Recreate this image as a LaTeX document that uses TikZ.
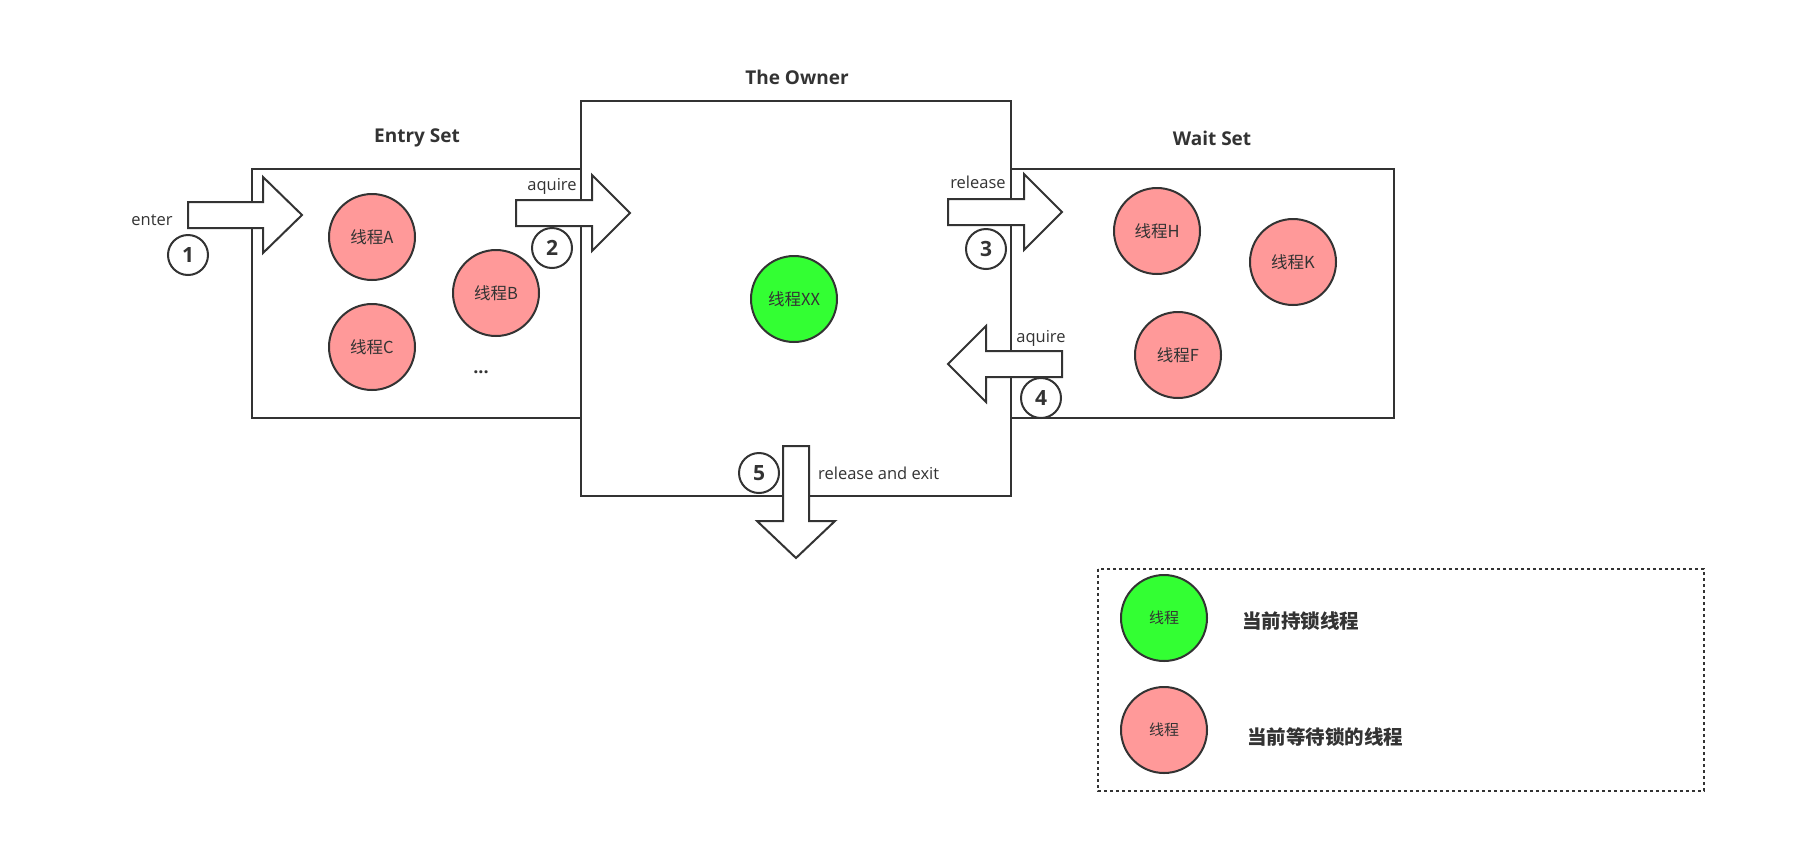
\documentclass[tikz,border=0pt]{standalone}
\usepackage{fontspec}
\setmainfont{Open Sans}
\newfontfamily\cjk{Noto Sans CJK SC}
\usetikzlibrary{shapes.geometric}
\definecolor{ink}{HTML}{333333}
\definecolor{waitred}{HTML}{FF9999}
\definecolor{holdgreen}{HTML}{33FF33}
\begin{document}
\begin{tikzpicture}[x=1pt,y=-1pt,
  setbox/.style={draw=ink, line width=2pt},
  settitle/.style={text=ink, font=\fontsize{19}{19}\selectfont\bfseries},
  thread/.style={circle, draw=ink, line width=2pt, fill=waitred, minimum size=86pt,
    inner sep=0pt, text=ink, font=\cjk\fontsize{16.5}{16.5}\selectfont},
  owner/.style={thread, fill=holdgreen},
  blockarrow/.style={draw=ink, fill=white, line width=2pt, line join=miter},
  stepnum/.style={circle, draw=ink, fill=white, line width=2pt, minimum size=40pt,
    inner sep=0pt, text=ink, font=\fontsize{21}{21}\selectfont\bfseries},
  steplabel/.style={text=ink, font=\fontsize{16.5}{16.5}\selectfont, inner sep=0pt},
  legendtext/.style={text=ink, anchor=west, inner sep=0pt, font=\cjk\fontsize{19.5}{19.5}\selectfont\bfseries}
]
\useasboundingbox[fill=white] (0,0) rectangle (1810,855);

% the three sets
\draw[setbox] (252,169) rectangle (581,418);
\draw[setbox] (1011,169) rectangle (1394,418);
\draw[setbox] (581,101) rectangle (1011,496);
\node[settitle] (entrytitle) at (417,138) {Entry Set};
\node[settitle] (ownertitle) at (797,77) {The Owner};
\node[settitle] (waittitle) at (1212,138) {Wait Set};

% threads
\node[thread] (ta) at (372,237) {线程A};
\node[thread] (tb) at (496,293) {线程B};
\node[thread] (tc) at (372,347) {线程C};
\node[text=ink, font=\fontsize{18}{18}\selectfont\bfseries] (more) at (481,372) {...};
\node[owner] (txx) at (794,299) {线程XX};
\node[thread] (th) at (1157,231) {线程H};
\node[thread] (tk) at (1293,262) {线程K};
\node[thread] (tf) at (1178,355) {线程F};

% block arrows
\draw[blockarrow] (188,202) -- (263,202) -- (263,177) -- (302,215) -- (263,253) -- (263,228) -- (188,228) -- cycle;
\draw[blockarrow] (516,200) -- (592,200) -- (592,175) -- (630,213) -- (592,251) -- (592,226) -- (516,226) -- cycle;
\draw[blockarrow] (948,199) -- (1024,199) -- (1024,174) -- (1062,212) -- (1024,250) -- (1024,225) -- (948,225) -- cycle;
\draw[blockarrow] (1062,351) -- (986,351) -- (986,326) -- (948,364) -- (986,402) -- (986,377) -- (1062,377) -- cycle;
\draw[blockarrow] (783,446) -- (783,521) -- (757,521) -- (796,558) -- (835,521) -- (809,521) -- (809,446) -- cycle;

% step labels
\node[steplabel] (lenter) at (152,220) {enter};
\node[steplabel] (lacq1) at (552,186) {aquire};
\node[steplabel] (lrel) at (978,182) {release};
\node[steplabel] (lacq2) at (1041,338) {aquire};
\node[steplabel, anchor=west] (lexit) at (818,473) {release and exit};

% step numbers
\node[stepnum] (n1) at (188,255) {1};
\node[stepnum] (n2) at (552,248) {2};
\node[stepnum] (n3) at (986,249) {3};
\node[stepnum] (n4) at (1041,398) {4};
\node[stepnum] (n5) at (759,473) {5};

% legend
\draw[draw=ink, line width=2pt, dash pattern=on 3pt off 3pt] (1098,569) rectangle (1704,791);
\node[owner, font=\cjk\fontsize{15}{15}\selectfont] (lgreen) at (1164,618) {线程};
\node[thread, font=\cjk\fontsize{15}{15}\selectfont] (lred) at (1164,730) {线程};
\node[legendtext] (lgtext) at (1242,621) {当前持锁线程};
\node[legendtext] (lrtext) at (1247,737) {当前等待锁的线程};
\end{tikzpicture}
\end{document}
